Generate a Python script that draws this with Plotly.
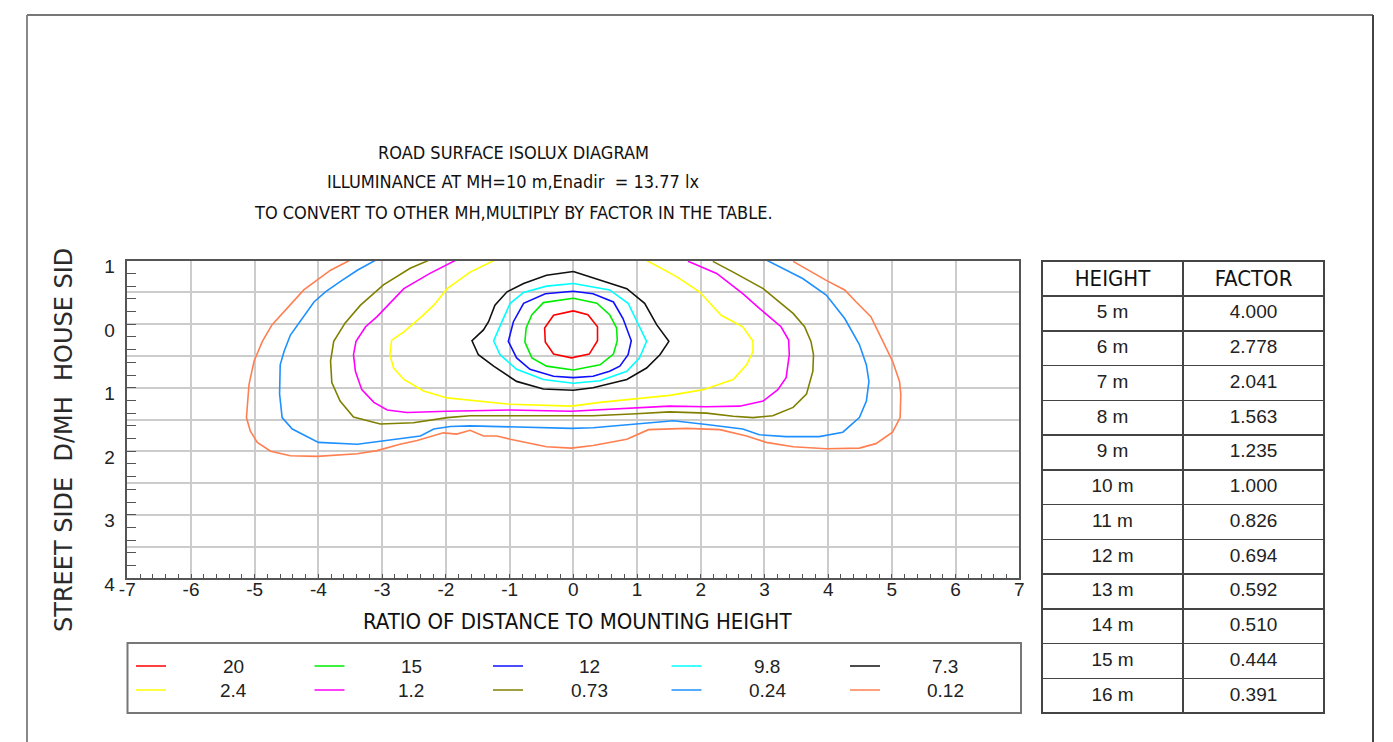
import plotly.graph_objects as go

W, H = 1393, 742

# ---------------- data ----------------
levels = ["20", "15", "12", "9.8", "7.3", "2.4", "1.2", "0.73", "0.24", "0.12"]
colors = ["#ff0000", "#00ee00", "#1010ff", "#00ffff", "#111111",
          "#ffff00", "#ff00ff", "#808000", "#1e90ff", "#ff7f50"]

# isolux lines (x = ratio of distance to MH, y = D/MH; negative = house side)
lux20_x = [0.00, 0.23, 0.38, 0.38, 0.25, -0.03, -0.31, -0.44, -0.45, -0.31, 0.00]
lux20_y = [-0.21, -0.15, 0.04, 0.26, 0.47, 0.53, 0.47, 0.28, 0.06, -0.14, -0.21]

lux15_x = [0.00, 0.37, 0.57, 0.68, 0.69, 0.63, 0.42, 0.00, -0.42, -0.65, -0.76, -0.74, -0.65, -0.47, 0.00]
lux15_y = [-0.41, -0.33, -0.15, 0.06, 0.26, 0.47, 0.64, 0.72, 0.66, 0.53, 0.28, 0.06, -0.15, -0.34, -0.41]

lux12_x = [0.00, 0.31, 0.63, 0.78, 0.91, 0.86, 0.73, 0.57, 0.31, 0.00, -0.31, -0.68, -0.89, -1.02, -0.94, -0.78, -0.44, 0.00]
lux12_y = [-0.52, -0.48, -0.35, -0.09, 0.26, 0.48, 0.66, 0.74, 0.82, 0.84, 0.82, 0.71, 0.53, 0.27, -0.04, -0.33, -0.48, -0.52]

lux98_x = [0.00, 0.57, 0.86, 1.00, 1.15, 1.04, 0.84, 0.42, 0.00, -0.47, -0.89, -1.15, -1.25, -1.12, -0.99, -0.78, -0.42, 0.00]
lux98_y = [-0.64, -0.54, -0.33, -0.04, 0.27, 0.53, 0.74, 0.89, 0.93, 0.87, 0.71, 0.48, 0.26, -0.04, -0.33, -0.50, -0.60, -0.64]

lux73_x = [0.00, 0.31, 0.84, 1.12, 1.31, 1.50, 1.36, 1.15, 0.84, 0.31, 0.00, -0.47, -0.89, -1.25, -1.49, -1.59, -1.41, -1.33, -1.23, -1.04, -0.78, -0.42, 0.00]
lux73_y = [-0.83, -0.73, -0.56, -0.33, 0.01, 0.27, 0.48, 0.69, 0.87, 1.00, 1.04, 1.02, 0.90, 0.66, 0.48, 0.26, 0.09, -0.04, -0.30, -0.51, -0.64, -0.77, -0.83]

lux24_x = [-1.23, -1.62, -1.98, -2.19, -2.38, -2.66, -2.85, -2.88, -2.82, -2.66, -2.35, -1.98, -0.99, -0.03,
           0.42, 0.99, 1.51, 2.04, 2.51, 2.72, 2.82, 2.82, 2.66, 2.32, 1.98, 1.62, 1.18, 1.14]
lux24_y = [-1.01, -0.82, -0.56, -0.30, -0.12, 0.12, 0.25, 0.48, 0.69, 0.87, 1.05, 1.16, 1.26, 1.29,
           1.23, 1.17, 1.12, 1.03, 0.87, 0.64, 0.43, 0.27, 0.04, -0.14, -0.51, -0.75, -0.98, -1.01]

lux12b_x = [-1.84, -2.25, -2.66, -3.08, -3.26, -3.41, -3.45, -3.42, -3.32, -3.13, -2.92, -2.61, -1.98, -0.99, -0.03,
            0.31, 0.99, 1.51, 2.09, 2.61, 2.98, 3.21, 3.34, 3.39, 3.38, 3.26, 2.92, 2.66, 2.25, 1.80]
lux12b_y = [-1.01, -0.80, -0.56, -0.12, 0.04, 0.27, 0.48, 0.74, 1.03, 1.23, 1.35, 1.39, 1.37, 1.35, 1.37,
            1.35, 1.31, 1.29, 1.30, 1.29, 1.21, 1.03, 0.84, 0.48, 0.25, 0.04, -0.25, -0.48, -0.80, -0.99]

lux073_x = [-2.26, -2.56, -2.98, -3.34, -3.58, -3.76, -3.81, -3.79, -3.66, -3.45, -3.03, -2.51, -1.98, -1.62, -0.99, -0.03,
            0.31, 0.99, 1.51, 2.09, 2.51, 2.82, 3.13, 3.45, 3.66, 3.76, 3.77, 3.73, 3.63, 3.45, 2.98, 2.51, 2.19]
lux073_y = [-1.01, -0.88, -0.62, -0.30, -0.02, 0.27, 0.58, 0.92, 1.21, 1.46, 1.57, 1.55, 1.47, 1.44, 1.44, 1.44,
            1.44, 1.41, 1.38, 1.40, 1.45, 1.47, 1.44, 1.31, 1.10, 0.74, 0.48, 0.27, 0.04, -0.17, -0.56, -0.82, -0.99]

lux024_x = [-3.10, -3.39, -3.66, -3.89, -4.07, -4.26, -4.44, -4.54, -4.60, -4.61, -4.57, -4.41, -4.00, -3.39, -2.77,
            -2.40, -2.19, -1.93, -1.62, -0.99, -0.03, 0.31, 0.99, 1.57, 2.09, 2.66, 2.92, 3.34, 3.86, 4.23, 4.49,
            4.60, 4.64, 4.60, 4.49, 4.26, 3.97, 3.60, 3.03]
lux024_y = [-1.01, -0.85, -0.67, -0.51, -0.35, -0.09, 0.17, 0.43, 0.64, 1.10, 1.47, 1.65, 1.86, 1.89, 1.81,
            1.76, 1.65, 1.61, 1.60, 1.62, 1.64, 1.63, 1.57, 1.52, 1.58, 1.65, 1.74, 1.77, 1.77, 1.70, 1.47,
            1.21, 0.90, 0.64, 0.32, -0.09, -0.46, -0.72, -1.01]

lux012_x = [-3.50, -3.81, -4.23, -4.49, -4.73, -4.88, -5.01, -5.09, -5.13, -5.07, -4.96, -4.75, -4.44, -4.02, -3.39,
            -3.08, -2.72, -2.45, -2.25, -2.04, -1.83, -1.62, -1.41, -1.20, -0.99, -0.42, -0.03, 0.31, 0.84, 1.18,
            1.78, 2.30, 2.72, 3.03, 3.45, 3.97, 4.49, 4.75, 5.01, 5.13, 5.14, 5.12, 5.01, 4.86, 4.75, 4.67, 4.44,
            4.26, 3.97, 3.45]
lux012_y = [-1.01, -0.85, -0.54, -0.25, 0.01, 0.27, 0.58, 0.95, 1.47, 1.68, 1.86, 2.00, 2.07, 2.08, 2.04,
            1.99, 1.89, 1.83, 1.77, 1.71, 1.73, 1.67, 1.76, 1.76, 1.81, 1.93, 1.95, 1.91, 1.81, 1.66,
            1.64, 1.66, 1.76, 1.86, 1.93, 1.96, 1.95, 1.88, 1.70, 1.47, 1.10, 0.90, 0.58, 0.27, 0.04, -0.12, -0.35,
            -0.54, -0.69, -0.99]

series_x = [lux20_x, lux15_x, lux12_x, lux98_x, lux73_x, lux24_x, lux12b_x, lux073_x, lux024_x, lux012_x]
series_y = [lux20_y, lux15_y, lux12_y, lux98_y, lux73_y, lux24_y, lux12b_y, lux073_y, lux024_y, lux012_y]

x_ticks = [-7, -6, -5, -4, -3, -2, -1, 0, 1, 2, 3, 4, 5, 6, 7]
x_ticktext = ["-7", "-6", "-5", "-4", "-3", "-2", "-1", "0", "1", "2", "3", "4", "5", "6", "7"]
y_tickvals = [-1, 0, 1, 2, 3, 4]
y_ticktext = ["1", "0", "1", "2", "3", "4"]

heights = ["5 m", "6 m", "7 m", "8 m", "9 m", "10 m", "11 m", "12 m", "13 m", "14 m", "15 m", "16 m"]
factors = ["4.000", "2.778", "2.041", "1.563", "1.235", "1.000", "0.826", "0.694", "0.592", "0.510", "0.444", "0.391"]

title_lines = ["ROAD SURFACE ISOLUX DIAGRAM",
               "ILLUMINANCE AT MH=10 m,Enadir\u00a0\u00a0= 13.77 lx",
               "TO CONVERT TO OTHER MH,MULTIPLY BY FACTOR IN THE TABLE."]
x_title = "RATIO OF DISTANCE TO MOUNTING HEIGHT"
y_title = "STREET SIDE\u00a0\u00a0D/MH\u00a0\u00a0HOUSE SID"

# ---------------- helpers (page has an 8px body margin) ----------------
OFF = 8

def px(x):
    return (x - OFF) / W

def py(y):
    return 1 - (y - OFF) / H

COND = "Liberation Sans Narrow, DejaVu Sans Condensed, Arial Narrow, sans-serif"
ARIAL = "Liberation Sans, Arial, sans-serif"
GRID = "#cccccc"
AX = "#555555"

fig = go.Figure()

for lvl, col, xs, ys in zip(levels, colors, series_x, series_y):
    fig.add_trace(go.Scatter(x=xs, y=ys, mode="lines", name=lvl,
                             line=dict(color=col, width=1.6), showlegend=False,
                             hoverinfo="skip"))

# invisible trace for the tick-only overlay axis
fig.add_trace(go.Scatter(x=[0], y=[0], yaxis="y2", mode="markers",
                         marker=dict(opacity=0), showlegend=False, hoverinfo="skip"))

# factor table
fig.add_trace(go.Table(
    domain=dict(x=[px(1042), px(1325)], y=[py(740), py(261)]),
    columnwidth=[1, 1],
    header=dict(values=["HEIGHT", "FACTOR"], height=35,
                font=dict(family=COND, size=22, color="#111"),
                line=dict(color="#444", width=1.5), fill=dict(color="white"),
                align="center"),
    cells=dict(values=[heights, factors], height=34.75,
               font=dict(family=ARIAL, size=19, color="#222"),
               line=dict(color="#444", width=1.5), fill=dict(color="white"),
               align="center"),
))

fig.update_layout(
    width=W, height=H, autosize=False,
    margin=dict(l=0, r=0, t=0, b=0, pad=0, autoexpand=False),
    paper_bgcolor="white", plot_bgcolor="white",
    showlegend=False,
    xaxis=dict(domain=[px(127.3), px(1019.3)], range=[-7, 7], automargin=False,
               tickmode="array", tickvals=x_ticks, ticktext=x_ticktext,
               showgrid=True, gridcolor=GRID, gridwidth=1.5,
               ticks="inside", ticklen=5, tickcolor=AX, tickwidth=1,
               minor=dict(tickmode="linear", tick0=0, dtick=0.2, ticks="inside",
                          ticklen=5, tickcolor=AX, showgrid=False),
               showline=True, linecolor=AX, linewidth=1.5, mirror=True,
               zeroline=False, ticklabelstandoff=-7,
               tickfont=dict(family=ARIAL, size=19, color="#222")),
    yaxis=dict(domain=[py(578.3), py(260.7)], range=[4, -1], automargin=False,
               tickmode="array", tickvals=y_tickvals, ticktext=y_ticktext,
               showgrid=True, gridcolor=GRID, gridwidth=1.5, ticks="",
               minor=dict(tickmode="linear", tick0=0, dtick=0.5, ticks="",
                          showgrid=True, gridcolor=GRID, gridwidth=1.5),
               showline=True, linecolor=AX, linewidth=1.5, mirror=True,
               zeroline=False, ticklabelstandoff=7, ticklabelshift=-6,
               tickfont=dict(family=ARIAL, size=19, color="#222")),
    yaxis2=dict(overlaying="y", side="left", anchor="x", range=[4, -1], automargin=False,
                tickmode="linear", tick0=0, dtick=0.2, ticks="inside",
                ticklen=9, tickcolor=AX, tickwidth=1,
                showticklabels=False, showgrid=False, showline=False, zeroline=False),
)

ann = []
for i, t in enumerate(title_lines):
    ann.append(dict(text=t, x=px(513), y=py(152 + 30 * i), xref="paper", yref="paper",
                    xanchor="center", yanchor="middle", showarrow=False,
                    font=dict(family=COND, size=18, color="#111")))
ann.append(dict(text=x_title, x=px(577), y=py(621), xref="paper", yref="paper",
                xanchor="center", yanchor="middle", showarrow=False,
                font=dict(family=COND, size=22, color="#111")))
ann.append(dict(text=y_title, x=px(64), y=py(440), xref="paper", yref="paper",
                xanchor="center", yanchor="middle", showarrow=False, textangle=-90,
                font=dict(family="DejaVu Sans", size=24, color="#2a2a2a")))

shapes = []
# outer frame
shapes.append(dict(type="line", xref="paper", yref="paper", x0=px(27), x1=px(27),
                   y0=py(15), y1=py(760), line=dict(color="#888", width=2)))
shapes.append(dict(type="line", xref="paper", yref="paper", x0=px(27), x1=px(1373),
                   y0=py(15), y1=py(15), line=dict(color="#777", width=2)))
shapes.append(dict(type="line", xref="paper", yref="paper", x0=px(1373), x1=px(1373),
                   y0=py(15), y1=py(760), line=dict(color="#444", width=2)))
# legend box
shapes.append(dict(type="rect", xref="paper", yref="paper", x0=px(127.5), x1=px(1021),
                   y0=py(643), y1=py(713), line=dict(color="#777", width=2)))

for i, (lvl, col) in enumerate(zip(levels, colors)):
    r, c = divmod(i, 5)
    x0 = 136 + c * 178.5
    yy = 666 + r * 24
    shapes.append(dict(type="line", xref="paper", yref="paper", x0=px(x0), x1=px(x0 + 30),
                       y0=py(yy), y1=py(yy), line=dict(color=col, width=1.5)))
    ann.append(dict(text=lvl, x=px(233 + c * 178), y=py(yy), xref="paper", yref="paper",
                    xanchor="center", yanchor="middle", showarrow=False,
                    font=dict(family=ARIAL, size=19, color="#222")))

fig.update_layout(annotations=ann, shapes=shapes)

fig.write_html("out.html")
